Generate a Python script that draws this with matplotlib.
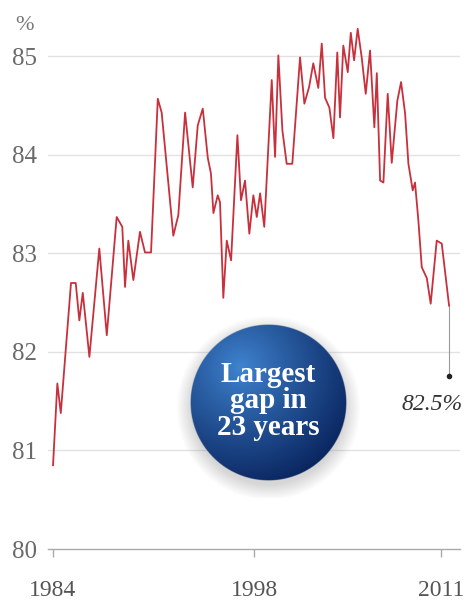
import numpy as np
import matplotlib
matplotlib.use("Agg")
import matplotlib.pyplot as plt

# traced values (percent), fractional years
years = [1984.00, 1984.30, 1984.54, 1985.25, 1985.58, 1985.83, 1986.07, 1986.53,
         1987.22, 1987.74, 1988.43, 1988.82, 1989.01, 1989.24, 1989.59, 1990.05,
         1990.40, 1990.82, 1991.29, 1991.56, 1992.37, 1992.72, 1993.19, 1993.72,
         1994.07, 1994.42, 1994.77, 1994.99, 1995.16, 1995.46, 1995.62, 1995.85,
         1996.09, 1996.39, 1996.83, 1997.08, 1997.36, 1997.66, 1997.94, 1998.18,
         1998.41, 1998.70, 1999.22, 1999.45, 1999.68, 1999.96, 2000.26, 2000.65,
         2001.19, 2001.49, 2001.82, 2002.11, 2002.46, 2002.70, 2002.93, 2003.23,
         2003.51, 2003.78, 2003.97, 2004.20, 2004.51, 2004.72, 2004.95, 2005.20,
         2005.48, 2005.76, 2006.06, 2006.36, 2006.53, 2006.76, 2006.99, 2007.29,
         2007.57, 2007.96, 2008.22, 2008.50, 2008.73, 2009.03, 2009.19, 2009.42,
         2009.66, 2010.01, 2010.28, 2010.70, 2011.05, 2011.56]
values = [80.85, 81.68, 81.38, 82.70, 82.70, 82.32, 82.60, 81.95,
          83.05, 82.17, 83.37, 83.27, 82.66, 83.13, 82.73, 83.22,
          83.01, 83.01, 84.57, 84.43, 83.18, 83.39, 84.43, 83.67,
          84.30, 84.47, 83.97, 83.81, 83.41, 83.59, 83.52, 82.55,
          83.13, 82.93, 84.20, 83.54, 83.74, 83.20, 83.59, 83.37,
          83.61, 83.27, 84.76, 83.98, 85.01, 84.25, 83.91, 83.91,
          84.99, 84.52, 84.69, 84.93, 84.68, 85.13, 84.58, 84.48,
          84.17, 85.04, 84.38, 85.11, 84.84, 85.24, 84.96, 85.28,
          84.99, 84.62, 85.06, 84.28, 84.83, 83.74, 83.72, 84.62,
          83.92, 84.55, 84.74, 84.42, 83.91, 83.64, 83.72, 83.34,
          82.86, 82.75, 82.49, 83.13, 83.10, 82.47]

y_ticks = [80, 81, 82, 83, 84, 85]
x_ticks = [1984, 1998, 2011]
last_label = "82.5%"
bubble_text = "Largest\ngap in\n23 years"

W, H = 471, 600
fig = plt.figure(figsize=(W / 100, H / 100), dpi=100)
fig.patch.set_facecolor("white")

ax = fig.add_axes([48 / W, 1 - 549 / H, (460 - 48) / W, (549 - 17) / H])
ax.set_xlim(1983.65, 2012.32)
ax.set_ylim(80, 85.4)

for v in y_ticks[1:]:
    ax.axhline(v, color="#e2e2e2", lw=1.0, zorder=1)

ax.plot(years, values, color="#c8303c", lw=1.3, zorder=3)

# leader to the last value
ax.plot([years[-1], years[-1]], [values[-1], 81.76], color="#999999", lw=0.8, zorder=2)
ax.plot(years[-1], 81.76, "o", color="#222222", ms=3, zorder=4)
ax.text(years[-1] - 1.15, 81.47, last_label, ha="center", va="center",
        fontsize=17, style="italic", family="Liberation Serif", color="#333333")

for s in ["top", "right", "left"]:
    ax.spines[s].set_visible(False)
ax.spines["bottom"].set_color("#aaaaaa")
ax.spines["bottom"].set_linewidth(1.0)

ax.set_yticks(y_ticks)
ax.set_yticklabels([str(t) for t in y_ticks])
ax.set_xticks(x_ticks)
ax.set_xticklabels([str(t) for t in x_ticks])
ax.tick_params(axis="y", length=0, pad=8, labelsize=18, labelcolor="#6a6a6a")
ax.tick_params(axis="x", length=6, width=1, color="#aaaaaa", pad=16,
               labelsize=17, labelcolor="#555555")
for lab in ax.get_xticklabels() + ax.get_yticklabels():
    lab.set_family("Liberation Serif")

fig.text(25 / W, 1 - 26 / H, "%", ha="center", va="center", fontsize=16,
         family="Liberation Serif", color="#777777")

# blue sphere with soft shadow
cx, cy, rad = 268, 403, 78
pad = 1.22
bax = fig.add_axes([(cx - rad * pad) / W, 1 - (cy + rad * pad) / H,
                    2 * rad * pad / W, 2 * rad * pad / H])
n = 500
g = np.linspace(-pad, pad, n)
xx, yy = np.meshgrid(g, g)
r = np.sqrt(xx ** 2 + yy ** 2)
img = np.ones((n, n, 4))
img[..., 3] = 0
# shadow
rs = np.sqrt(xx ** 2 + (yy - 0.07) ** 2)
sh_a = np.clip((1.18 - rs) / 0.2, 0, 1) * 0.35
img[..., :3] = 0.55
img[..., 3] = sh_a
# sphere
d = np.sqrt((xx + 0.35) ** 2 + (yy + 0.45) ** 2)
t = np.clip(d / 1.55, 0, 1) ** 0.9
hi = np.array([0.25, 0.52, 0.82])
lo = np.array([0.04, 0.15, 0.38])
col = hi[None, None, :] * (1 - t[..., None]) + lo[None, None, :] * t[..., None]
a = np.clip((1 - r) * n / (2 * pad), 0, 1)
img[..., :3] = col * a[..., None] + img[..., :3] * (1 - a[..., None])
img[..., 3] = a + sh_a * (1 - a)
bax.imshow(img, extent=[-pad, pad, pad, -pad], interpolation="bilinear")
bax.axis("off")

fig.text(cx / W, 1 - 401 / H, bubble_text, ha="center", va="center",
         fontsize=21, fontweight="bold", family="Liberation Serif",
         color="white", linespacing=0.98)

fig.savefig("out.png", dpi=100)
